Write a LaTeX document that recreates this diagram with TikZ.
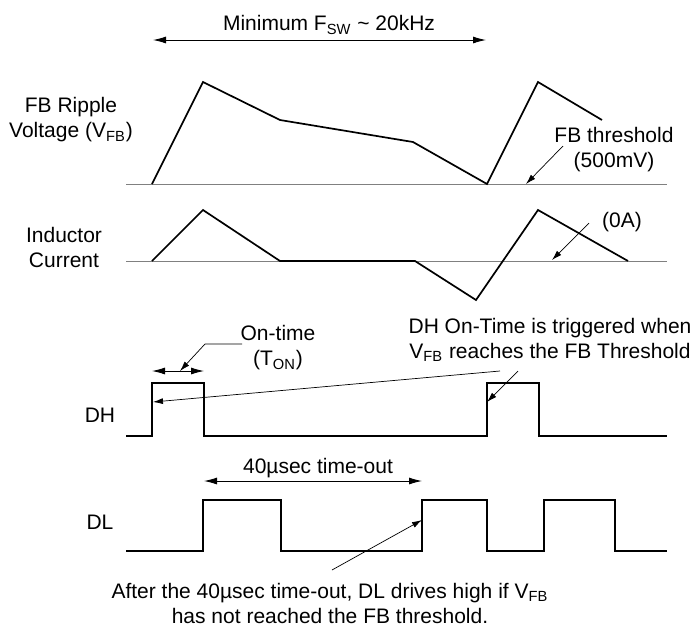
\documentclass[tikz,border=0pt]{standalone}
\usepackage{fontspec}
\setmainfont{Liberation Sans}
\usepackage{xcolor}
\usetikzlibrary{arrows.meta}
\definecolor{axisgray}{RGB}{128,128,128}

\begin{document}
\begin{tikzpicture}[x=0.5pt, y=-0.5pt, font=\fontsize{10.5}{12.5}\selectfont]
    \tikzstyle{label} = [align=center, inner sep=0pt]
    \tikzstyle{wave} = [line width=0.85pt, line join=miter]
    \tikzstyle{axis} = [draw=axisgray, line width=0.5pt]
    \tikzstyle{span} = [{Latex[length=6.5pt,width=3.5pt]}-{Latex[length=6.5pt,width=3.5pt]}, line width=0.45pt]
    \tikzstyle{pointer} = [-{Latex[length=5pt,width=3pt]}, line width=0.35pt]

    \useasboundingbox (0,0) rectangle (697,628);

    % Signal names
    \node [label] (fb_name) at (71,120) {FB Ripple\\Voltage (V\textsubscript{FB})};
    \node [label] (il_name) at (64,247) {Inductor\\Current};
    \node [label] (dh_name) at (100,415) {DH};
    \node [label] (dl_name) at (100,522) {DL};

    % Notes
    \node [label] (fsw_note) at (329,25) {Minimum F\textsubscript{SW} \textasciitilde{} 20kHz};
    \node [label] (thr_note) at (614,150) {FB threshold\\(500mV)};
    \node [label] (zero_note) at (622,222) {(0A)};
    \node [label] (ton_note) at (278,348) {On-time\\(T\textsubscript{ON})};
    \node [label] (dh_note) at (550,340) {DH On-Time is triggered when\\V\textsubscript{FB} reaches the FB Threshold};
    \node [label] (timeout_note) at (318,468) {40µsec time-out};
    \node [label] (dl_note) at (330,603) {After the 40µsec time-out, DL drives high if V\textsubscript{FB}\\has not reached the FB threshold.};

    % Span and pointer ends
    \coordinate (fsw_l) at (153,40);
    \coordinate (fsw_r) at (486,40);
    \coordinate (ton_l) at (152,371);
    \coordinate (ton_r) at (204,371);
    \coordinate (ton_mid) at (180,371);
    \coordinate (timeout_l) at (204,481);
    \coordinate (timeout_r) at (422,481);
    \coordinate (thr_tail) at (563,146);
    \coordinate (thr_tip) at (526,184);
    \coordinate (zero_tail) at (589,223);
    \coordinate (zero_tip) at (552,260);
    \coordinate (ton_tail) at (242,344);
    \coordinate (ton_bend) at (205,344);
    \coordinate (dh_tail) at (500,371);
    \coordinate (dh_tip_a) at (153,402);
    \coordinate (dh_tail_b) at (518,371);
    \coordinate (dh_tip_b) at (487,402);
    \coordinate (dl_tail) at (332,570);
    \coordinate (dl_tip) at (422,520);

    % Zero lines
    \draw [axis] (126,184) -- (667,184);
    \draw [axis] (126,261) -- (667,261);

    % Waveforms
    \draw [wave] (152,184) -- (203,82) -- (280,120) -- (413,142) -- (487,184) -- (538,82) -- (602,120);
    \draw [wave] (152,261) -- (203,210) -- (280,261) -- (415,261) -- (476,300) -- (538,210) -- (628,261);
    \draw [wave] (126,436) -- (152,436) -- (152,383) -- (204,383) -- (204,436) -- (487,436)
        -- (487,383) -- (539,383) -- (539,436) -- (667,436);
    \draw [wave] (126,551) -- (203,551) -- (203,500) -- (281,500) -- (281,551) -- (422,551)
        -- (422,500) -- (487,500) -- (487,551) -- (544,551) -- (544,500) -- (615,500)
        -- (615,551) -- (667,551);

    % Arrows
    \draw [span] (fsw_l) -- (fsw_r);
    \draw [span] (ton_l) -- (ton_r);
    \draw [span] (timeout_l) -- (timeout_r);
    \draw [pointer] (thr_tail) -- (thr_tip);
    \draw [pointer] (zero_tail) -- (zero_tip);
    \draw [pointer] (ton_tail) -- (ton_bend) -- (ton_mid);
    \draw [pointer] (dh_tail) -- (dh_tip_a);
    \draw [pointer] (dh_tail_b) -- (dh_tip_b);
    \draw [pointer] (dl_tail) -- (dl_tip);
\end{tikzpicture}
\end{document}
